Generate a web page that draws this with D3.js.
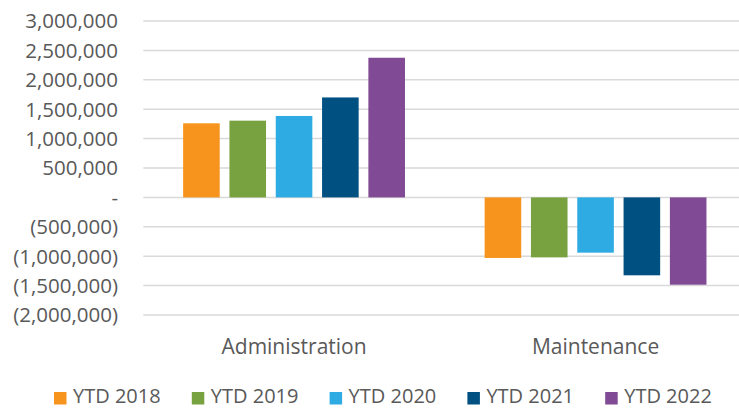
<!DOCTYPE html>
<html>
<head>
<meta charset="utf-8">
<script src="https://cdn.jsdelivr.net/npm/d3@7"></script>
<style>
  body { margin: 0; background: #fff; }
  text { font-family: "Open Sans", sans-serif; fill: #595959; }
</style>
</head>
<body>
<div id="chart"></div>
<script>
// chart data
const categories = ["Administration", "Maintenance"];
const seriesNames = ["YTD 2018", "YTD 2019", "YTD 2020", "YTD 2021", "YTD 2022"];
const seriesColors = ["#f7941d", "#78a140", "#2eabe2", "#005082", "#804a94"];
const ytd2018 = [1260000, -1030000];
const ytd2019 = [1305000, -1020000];
const ytd2020 = [1385000, -940000];
const ytd2021 = [1700000, -1325000];
const ytd2022 = [2375000, -1485000];
const yTicks = [-2000000, -1500000, -1000000, -500000, 0, 500000, 1000000, 1500000, 2000000, 2500000, 3000000];

const seriesValues = [ytd2018, ytd2019, ytd2020, ytd2021, ytd2022];

const width = 739, height = 408;
const svg = d3.select("#chart").append("svg")
    .attr("width", width)
    .attr("height", height);

const x = d3.scaleBand()
    .domain(categories)
    .range([143.3, 746.3]);

const xInner = d3.scaleBand()
    .domain(seriesNames)
    .range([0, x.bandwidth()])
    .paddingInner(0.21)
    .paddingOuter(0.86);

const y = d3.scaleLinear()
    .domain([-2000000, 3000000])
    .range([315, 21]);

const fmt = d3.format(",");
const tickLabel = v => v === 0 ? "-" : v < 0 ? "(" + fmt(-v) + ")" : fmt(v);

// gridlines
svg.append("g")
    .selectAll("line")
    .data(yTicks)
    .join("line")
    .attr("x1", 143.3)
    .attr("x2", width)
    .attr("y1", d => y(d))
    .attr("y2", d => y(d))
    .attr("stroke", "#d9d9d9")
    .attr("stroke-width", 1.5);

// y axis labels
const yAxis = svg.append("g")
    .attr("transform", "translate(118,0)")
    .call(d3.axisLeft(y).tickValues(yTicks).tickFormat(tickLabel).tickSize(0).tickPadding(0));
yAxis.select(".domain").remove();
yAxis.selectAll("text")
    .attr("font-family", null)
    .style("font-size", "20.5px")
    .attr("dy", "0.34em")
    .attr("fill", null);

// bars
const groups = svg.append("g")
    .selectAll("g")
    .data(categories)
    .join("g")
    .attr("transform", d => `translate(${x(d)},0)`);

groups.selectAll("rect")
    .data((c, ci) => seriesNames.map((s, si) => ({ s, si, v: seriesValues[si][ci] })))
    .join("rect")
    .attr("x", d => xInner(d.s))
    .attr("width", xInner.bandwidth())
    .attr("y", d => y(Math.max(0, d.v)))
    .attr("height", d => Math.abs(y(d.v) - y(0)))
    .attr("fill", d => seriesColors[d.si]);

// category labels
svg.append("g")
    .selectAll("text")
    .data(categories)
    .join("text")
    .attr("x", d => x(d) + x.bandwidth() / 2)
    .attr("y", 354)
    .attr("text-anchor", "middle")
    .style("font-size", "21px")
    .text(d => d);

// legend
const legend = svg.append("g")
    .selectAll("g")
    .data(seriesNames)
    .join("g")
    .attr("transform", (d, i) => `translate(${54 + i * 137.8},0)`);

legend.append("rect")
    .attr("y", 392)
    .attr("width", 12.5)
    .attr("height", 12.5)
    .attr("fill", (d, i) => seriesColors[i]);

legend.append("text")
    .attr("x", 19)
    .attr("y", 403)
    .style("font-size", "20px")
    .text(d => d);
</script>
</body>
</html>
